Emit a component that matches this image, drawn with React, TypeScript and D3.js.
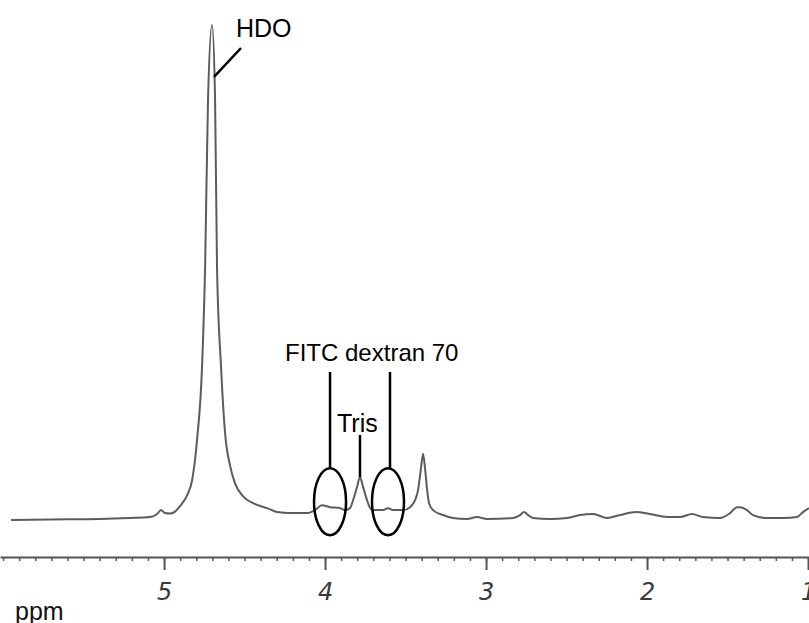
import { useEffect, useRef } from 'react';
import * as d3 from 'd3';

const width = 809;
const height = 623;

// 1H NMR spectrum: shift (ppm) and intensity (HDO top = 100)
const shifts = [
  5.95, 5.708, 5.398, 5.211, 5.087, 5.043, 5.019, 4.994, 4.963, 4.932,
  4.901, 4.857, 4.826, 4.795, 4.764, 4.745, 4.727, 4.702, 4.683, 4.671,
  4.646, 4.621, 4.59, 4.559, 4.509, 4.447, 4.36, 4.298, 4.217, 4.112,
  4.062, 4.019, 3.969, 3.907, 3.876, 3.845, 3.826, 3.801, 3.783, 3.764,
  3.739, 3.72, 3.702, 3.64, 3.609, 3.578, 3.516, 3.472, 3.441, 3.422,
  3.404, 3.391, 3.379, 3.366, 3.354, 3.329, 3.267, 3.205, 3.118, 3.056,
  2.994, 2.832, 2.789, 2.764, 2.739, 2.708, 2.602, 2.497, 2.416, 2.335,
  2.248, 2.168, 2.068, 1.981, 1.876, 1.795, 1.72, 1.652, 1.547, 1.484,
  1.441, 1.422, 1.379, 1.342, 1.255, 1.155, 1.068, 1.031, 0.994,
];
const intensities = [
  -0.2, -0.1, 0, 0.2, 0.4, 1.0, 1.8, 1.2, 1.1, 1.5,
  2.6, 4.8, 7.8, 16.0, 30.8, 51.0, 84.8, 100, 84.8, 51.0,
  30.8, 17.4, 10.8, 7.2, 4.6, 3.2, 2.2, 1.4, 1.2, 1.2,
  1.8, 2.8, 2.4, 2.2, 1.8, 2.2, 3.8, 6.5, 8.5, 6.5,
  3.8, 2.2, 1.8, 1.8, 2.2, 1.8, 1.8, 2.4, 3.8, 5.9,
  10.3, 13.2, 10.3, 5.9, 3.2, 1.8, 0.8, 0.2, 0, 0.4,
  0, 0.2, 0.8, 1.4, 0.8, 0.2, 0, 0.2, 0.8, 1.0,
  0.2, 0.8, 1.4, 1.0, 0.4, 0.4, 1.0, 0.4, 0.2, 1.2,
  2.4, 2.4, 1.8, 0.8, 0.2, 0.2, 0.4, 1.4, 2.2,
];

const majorTicks = [5, 4, 3, 2, 1];

// annotated signals (ppm)
const hdoShift = 4.702;
const trisShift = 3.783;
const fitcShifts = [3.969, 3.609];

const App = () => {
  const svgRef = useRef<SVGSVGElement>(null);

  useEffect(() => {
    const svg = d3.select(svgRef.current);
    svg.selectAll('*').remove();

    const x = d3.scaleLinear().domain([6.019, 0.994]).range([0, width]);
    const y = d3.scaleLinear().domain([0, 100]).range([519, 25]);
    const axisY = 557;

    svg.append('rect').attr('width', width).attr('height', height).attr('fill', '#fff');

    // minor ticks every 0.1 ppm
    const minor = d3.range(10, 61).map(d => d / 10);
    svg.append('g')
      .attr('transform', `translate(0,${axisY})`)
      .call(d3.axisBottom(x).tickValues(minor).tickSize(4).tickSizeOuter(0).tickFormat(() => ''))
      .call(g => g.select('.domain').attr('stroke', '#555').attr('stroke-width', 2))
      .call(g => g.selectAll('.tick line').attr('stroke', '#555').attr('stroke-width', 1.5));

    // major ticks + labels
    svg.append('g')
      .attr('transform', `translate(0,${axisY})`)
      .call(d3.axisBottom(x).tickValues(majorTicks).tickSize(13).tickSizeOuter(0).tickFormat(d3.format('d')))
      .call(g => g.select('.domain').remove())
      .call(g => g.selectAll('.tick line').attr('stroke', '#555').attr('stroke-width', 2))
      .call(g => g.selectAll('.tick text')
        .attr('y', 43)
        .attr('dy', 0)
        .attr('fill', '#3a3a3a')
        .style('font-family', '"DejaVu Sans", sans-serif')
        .style('font-style', 'italic')
        .style('font-size', '24px'));

    svg.append('text')
      .attr('x', 15)
      .attr('y', 620)
      .style('font-family', '"Liberation Sans", Arial, sans-serif')
      .style('font-size', '25px')
      .attr('fill', '#111')
      .text('ppm');

    // spectrum
    const pts = shifts.map((s, i) => [s, intensities[i]] as [number, number]);
    const line = d3.line<[number, number]>()
      .x(d => x(d[0]))
      .y(d => y(d[1]))
      .curve(d3.curveMonotoneX);
    svg.append('path')
      .datum(pts)
      .attr('d', line)
      .attr('fill', 'none')
      .attr('stroke', '#5c5c5c')
      .attr('stroke-width', 2);

    const ann = svg.append('g')
      .attr('stroke', '#000')
      .attr('stroke-width', 2.5)
      .attr('fill', 'none');
    const textStyle = (t: any, size: number) => t
      .style('font-family', '"Liberation Sans", Arial, sans-serif')
      .style('font-size', `${size}px`)
      .attr('fill', '#000');

    // HDO
    const hx = x(hdoShift);
    ann.append('line').attr('x1', hx + 29).attr('y1', 48).attr('x2', hx + 2).attr('y2', y(89.5));
    svg.append('text').attr('x', hx + 24).attr('y', 37).call(textStyle, 25).text('HDO');

    // FITC dextran 70
    const ellipseCy = y(3.5);
    fitcShifts.forEach((s, i) => {
      const cx = x(s);
      ann.append('ellipse').attr('cx', cx).attr('cy', ellipseCy).attr('rx', 16).attr('ry', 33.5);
      ann.append('line').attr('x1', cx + (i ? 2 : 0)).attr('x2', cx + (i ? 2 : 0))
        .attr('y1', 372).attr('y2', ellipseCy - 33.5);
    });
    svg.append('text').attr('x', x(fitcShifts[0]) - 45).attr('y', 361).call(textStyle, 24).text('FITC dextran 70');

    // Tris
    const tx = x(trisShift);
    ann.append('line').attr('x1', tx).attr('x2', tx).attr('y1', 435).attr('y2', y(8.5));
    svg.append('text').attr('x', tx - 23).attr('y', 432).call(textStyle, 25).text('Tris');
  }, []);

  return (
    <svg
      ref={svgRef}
      width={width}
      height={height}
      style={{ position: 'absolute', left: 0, top: 0, display: 'block' }}
    />
  );
};

export default App;
